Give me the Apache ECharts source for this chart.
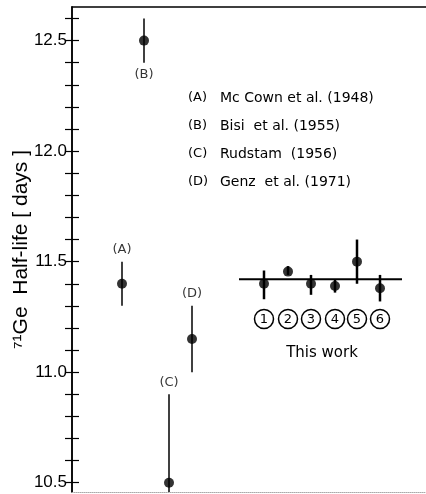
<!DOCTYPE html>
<html><head><meta charset="utf-8">
<script src="https://cdn.jsdelivr.net/npm/echarts@6/dist/echarts.min.js"></script>
<style>html,body{margin:0;padding:0;background:#fff}#c{width:426px;height:494px}</style>
</head><body><div id="c"></div>
<script>
// Literature values
const litLabels = ['(A)', '(B)', '(C)', '(D)'];
const litX = [50, 72, 97, 120];
const litY = [11.40, 12.50, 10.50, 11.15];
const litLow = [11.30, 12.40, 10.10, 11.00];
const litHigh = [11.50, 12.60, 10.90, 11.30];
const litLabelAbove = [true, false, true, true];
const refNames = ['Mc Cown et al. (1948)', 'Bisi  et al. (1955)', 'Rudstam  (1956)', 'Genz  et al. (1971)'];
// This work
const workRuns = ['1', '2', '3', '4', '5', '6'];
const workX = [192, 216, 239, 263, 285, 308];
const workY = [11.40, 11.455, 11.40, 11.39, 11.50, 11.38];
const workLow = [11.33, 11.44, 11.35, 11.36, 11.40, 11.32];
const workHigh = [11.46, 11.48, 11.44, 11.42, 11.60, 11.44];
const workMean = 11.42;
const workMeanSpan = [167, 330];
// Axis
const yMin = 10.458, yMax = 12.652;
const yLabels = [10.5, 11.0, 11.5, 12.0, 12.5];
const yTicks = [10.5, 10.6, 10.7, 10.8, 10.9, 11.0, 11.1, 11.2, 11.3, 11.4, 11.5, 11.6, 11.7, 11.8, 11.9, 12.0, 12.1, 12.2, 12.3, 12.4, 12.5, 12.6];

const FONT = 'Liberation Sans';
const RFONT = '"DejaVu Sans"';
const chart = echarts.init(document.getElementById('c'), null, {renderer: 'canvas'});

function errBar(width) {
  return function (params, api) {
    const x = api.value(0), lo = Math.max(api.value(1), yMin), hi = Math.min(api.value(2), yMax);
    const p1 = api.coord([x, lo]), p2 = api.coord([x, hi]);
    return {type: 'line', shape: {x1: p1[0], y1: p1[1], x2: p2[0], y2: p2[1]},
      style: {stroke: '#000', lineWidth: width}};
  };
}

const option = {
  animation: false,
  backgroundColor: '#fff',
  grid: {left: 72, right: 0, top: 7, bottom: 2, containLabel: false, outerBoundsMode: 'none'},
  xAxis: [
    {type: 'value', min: 0, max: 354, position: 'bottom',
      axisLine: {show: true, lineStyle: {color: '#aaa', width: 1, type: 'dotted'}},
      axisTick: {show: false}, axisLabel: {show: false}, splitLine: {show: false}},
    {type: 'value', min: 0, max: 354, position: 'top',
      axisLine: {show: true, lineStyle: {color: '#000', width: 1.5}},
      axisTick: {show: false}, axisLabel: {show: false}, splitLine: {show: false}}
  ],
  yAxis: [
    {type: 'value', min: yMin, max: yMax, position: 'left',
      name: '\u2077\u00b9Ge  Half-life [ days ]', nameLocation: 'middle', nameRotate: 90, nameGap: 40,
      nameMoveOverlap: false,
      nameTextStyle: {fontSize: 21, fontFamily: FONT + ', "DejaVu Sans"', color: '#000'},
      axisLine: {show: true, lineStyle: {color: '#000', width: 1.5}},
      axisTick: {show: true, inside: true, length: 7, customValues: yTicks, lineStyle: {color: '#000', width: 1.2}},
      axisLabel: {show: true, customValues: yLabels, margin: 5, fontSize: 17, fontFamily: FONT, color: '#000',
        formatter: v => v.toFixed(1)},
      splitLine: {show: false}},
    {type: 'value', min: yMin, max: yMax, position: 'right',
      axisLine: {show: true, lineStyle: {color: '#000', width: 1.5}},
      axisTick: {show: true, inside: true, length: 7, customValues: yTicks, lineStyle: {color: '#000', width: 1.2}},
      axisLabel: {show: false}, splitLine: {show: false}}
  ],
  series: [
    {type: 'custom', renderItem: errBar(1.5), data: litX.map((x, i) => [x, litLow[i], litHigh[i]]), z: 2},
    {type: 'scatter', symbol: 'circle', symbolSize: 10, itemStyle: {color: '#000'},
      data: litX.map((x, i) => [x, litY[i]]), z: 3},
    {type: 'scatter', symbolSize: 1, itemStyle: {color: 'rgba(0,0,0,0)'},
      data: litX.map((x, i) => ({value: [x, litLabelAbove[i] ? Math.min(litHigh[i], yMax) : litLow[i]],
        label: {show: true, formatter: litLabels[i], position: litLabelAbove[i] ? 'top' : 'bottom', distance: 5,
          fontSize: 13, fontFamily: 'DejaVu Sans', color: '#000'}})), z: 3},
    {type: 'line', symbol: 'none', lineStyle: {color: '#000', width: 2},
      data: [[workMeanSpan[0], workMean], [workMeanSpan[1], workMean]], z: 2},
    {type: 'custom', renderItem: errBar(2.5), data: workX.map((x, i) => [x, workLow[i], workHigh[i]]), z: 2},
    {type: 'scatter', symbol: 'circle', symbolSize: 10, itemStyle: {color: '#000'},
      data: workX.map((x, i) => [x, workY[i]]), z: 3}
  ]
};
chart.setOption(option);

// Annotations
const g = [];
refNames.forEach((name, i) => {
  const y = 98 + i * 28;
  g.push({type: 'text', x: 188, y: y, style: {text: litLabels[i], font: '13px ' + RFONT, fill: '#000', verticalAlign: 'middle'}});
  g.push({type: 'text', x: 220, y: y, style: {text: name, font: '14px ' + RFONT, fill: '#000', verticalAlign: 'middle'}});
});
workX.forEach((x, i) => {
  const px = chart.convertToPixel({xAxisIndex: 0}, x);
  g.push({type: 'circle', shape: {cx: px, cy: 319, r: 9.5}, style: {fill: '#fff', stroke: '#000', lineWidth: 1.5}});
  g.push({type: 'text', x: px, y: 319.5, style: {text: workRuns[i], font: '13px ' + RFONT, fill: '#000', align: 'center', verticalAlign: 'middle'}});
});
const cx = chart.convertToPixel({xAxisIndex: 0}, (workX[0] + workX[workX.length - 1]) / 2);
g.push({type: 'text', x: cx, y: 353, style: {text: 'This work', font: '15px ' + RFONT, fill: '#000', align: 'center', verticalAlign: 'middle'}});
chart.setOption({graphic: g});
</script>
</body></html>
